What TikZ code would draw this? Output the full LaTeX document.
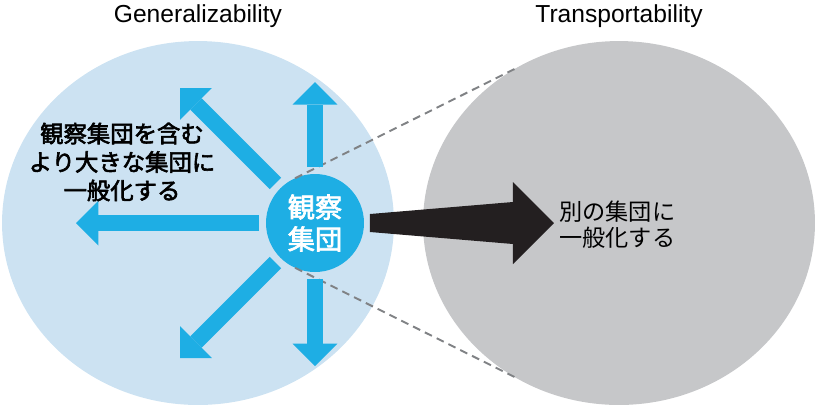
\documentclass[tikz,border=0pt]{standalone}
\usepackage{fontspec}
\setmainfont{Liberation Sans}
\newfontfamily\jpfont{Noto Sans CJK JP}
\newfontfamily\jpmid[FakeBold=2.6]{Noto Sans CJK JP}
\usetikzlibrary{arrows.meta,shapes.geometric}
\definecolor{genblue}{HTML}{CCE2F2}
\definecolor{obsblue}{HTML}{1EAEE4}
\definecolor{transgray}{HTML}{C6C7C9}
\definecolor{bigblack}{HTML}{231F20}
\definecolor{guidegray}{HTML}{808285}

\begin{document}
\begin{tikzpicture}[x=0.02cm,y=-0.02cm,
  blob/.style={ellipse,inner sep=0pt,outer sep=0pt,minimum width=7.84cm,minimum height=7.28cm},
  genarrow/.style={draw=obsblue,line width=0.32cm,shorten <=0.14cm,
    -{Triangle[width=0.9cm,length=0.45cm,line width=0pt]}},
  guide/.style={draw=guidegray,line width=1.1pt,dash pattern=on 4.5pt off 3pt}]
% 1 unit = 1 px of the 818 x 417 sketch, y runs downwards
\useasboundingbox (0,0) rectangle (818,417);
\node[blob,fill=genblue] (gen) at (198,223) {};
\node[blob,fill=transgray] (trans) at (619,223) {};
\node[font=\fontsize{14}{17}\selectfont] (genTitle) at (198,16) {Generalizability};
\node[font=\fontsize{14}{17}\selectfont] (transTitle) at (619,16) {Transportability};
\node[circle,fill=obsblue,minimum size=1.96cm,inner sep=0pt,outer sep=0pt,text=white,align=center,
  font=\jpmid\fontsize{15.5}{18.2}\selectfont] (obs) at (315,223) {観察\\集団};
\draw[guide] (obs.114) -- (trans.124);
\draw[guide] (obs.-114) -- (trans.-124);
% arrow tips around the observed group
\coordinate (tipUp) at (315,82);
\coordinate (tipDown) at (315,366);
\coordinate (tipLeft) at (76,223);
\coordinate (tipUpLeft) at (180,88);
\coordinate (tipDownLeft) at (180,358);
\foreach \t in {tipUp,tipDown,tipLeft,tipUpLeft,tipDownLeft}
  {\draw[genarrow] (obs) -- (\t);}
\node[align=center,font=\jpmid\fontsize{13.3}{16.2}\selectfont] (genLabel) at (122,162)
  {観察集団を含む\\より大きな集団に\\一般化する};
% tapered arrow towards the other population
\fill[bigblack] (obs.east) ++(6,-9) -- ++(143,-12) -- ++(0,-20) -- ++(41,41)
  -- ++(-41,41) -- ++(0,-20) -- ++(-143,-12) -- cycle;
\node[anchor=west,inner sep=0pt,align=left,font=\jpfont\fontsize{13.2}{14.8}\selectfont] (transLabel)
  at (559,225) {別の集団に\\一般化する};
\end{tikzpicture}
\end{document}
